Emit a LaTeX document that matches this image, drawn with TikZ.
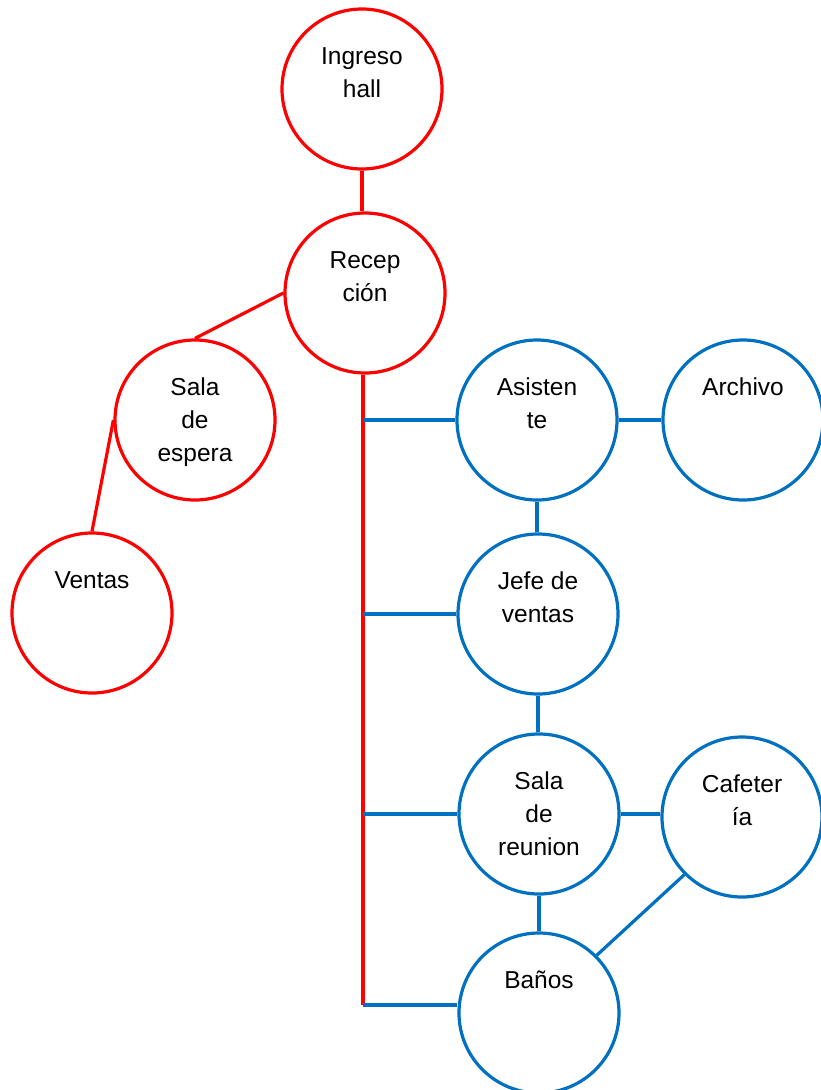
\documentclass[tikz,border=0pt]{standalone}
\usepackage{fontspec}
\setmainfont{Liberation Sans}
\usetikzlibrary{calc}
\definecolor{wred}{RGB}{255,0,0}
\definecolor{wblue}{RGB}{0,112,192}
\begin{document}
\begin{tikzpicture}[x=1pt,y=-1pt,
  room/.style={circle, line width=3.2pt, minimum size=160pt, inner sep=0pt},
  redroom/.style={room, draw=wred},
  blueroom/.style={room, draw=wblue},
  lbl/.style={anchor=north, inner sep=0pt, align=center, text=black,
              font=\fontsize{24.5}{33}\selectfont},
  redline/.style={draw=wred, line width=3.2pt},
  blueline/.style={draw=wblue, line width=3.2pt}]
\useasboundingbox (0,0) rectangle (820,1090);

% circles
\node[redroom] (ing) at (362,89) {};
\node[redroom] (rec) at (365,293) {};
\node[redroom] (esp) at (195,420) {};
\node[redroom] (ven) at (92,613) {};
\node[blueroom] (asi) at (537,420) {};
\node[blueroom] (arc) at (743,420) {};
\node[blueroom] (jef) at (538,614) {};
\node[blueroom] (sre) at (539,814) {};
\node[blueroom] (caf) at (742,817) {};
\node[blueroom] (ban) at (539,1013) {};

% labels
\node[lbl] (ingT) at ($(ing.center)+(0,-48)$) {\strut Ingreso\\hall};
\node[lbl] (recT) at ($(rec.center)+(0,-48)$) {\strut Recep\\ción};
\node[lbl] (espT) at ($(esp.center)+(0,-48)$) {\strut Sala\\de\\espera};
\node[lbl] (venT) at ($(ven.center)+(0,-48)$) {\strut Ventas};
\node[lbl] (asiT) at ($(asi.center)+(0,-48)$) {\strut Asisten\\te};
\node[lbl] (arcT) at ($(arc.center)+(0,-48)$) {\strut Archivo};
\node[lbl] (jefT) at ($(jef.center)+(0,-48)$) {\strut Jefe de\\ventas};
\node[lbl] (sreT) at ($(sre.center)+(0,-48)$) {\strut Sala\\de\\reunion};
\node[lbl] (cafT) at ($(caf.center)+(0,-48)$) {\strut Cafeter\\ía};
\node[lbl] (banT) at ($(ban.center)+(0,-48)$) {\strut Baños};

% red connectors
\coordinate (bus) at (363,1005);
\draw[redline] (ing.south) -- (ing.south |- rec.north);
\draw[redline] (rec.west) -- (esp.north);
\draw[redline] (esp.west) -- (ven.north);
\draw[redline] (bus |- rec.south) -- (bus);

% blue connectors
\draw[blueline] (bus |- asi.west) -- (asi.west);
\draw[blueline] (bus |- jef.west) -- (jef.west);
\draw[blueline] (bus |- sre.west) -- (sre.west);
\draw[blueline] (bus) -- (bus -| ban.west);
\draw[blueline] (asi.east) -- (arc.west);
\draw[blueline] (asi.south) -- (asi.south |- jef.north);
\draw[blueline] (jef.south) -- (jef.south |- sre.north);
\draw[blueline] (sre.east) -- (sre.east -| caf.west);
\draw[blueline] (sre.south) -- (ban.north);
\draw[blueline] (caf.south west) -- (ban.north east);
\end{tikzpicture}
\end{document}
